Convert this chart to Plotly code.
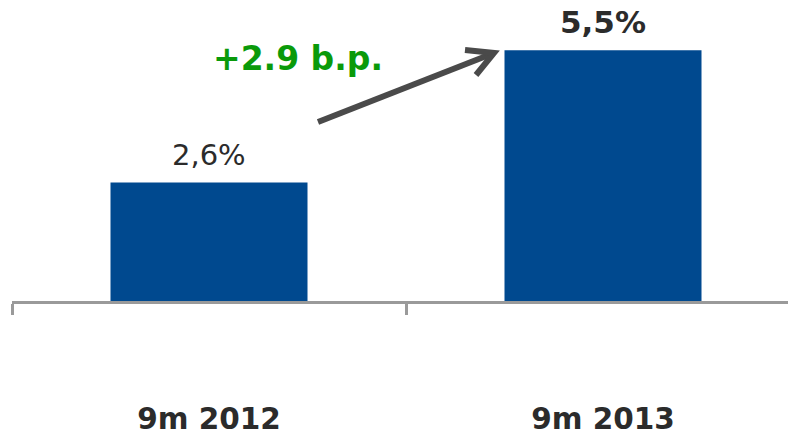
import plotly.graph_objects as go

# Data
categories = ["9m 2012", "9m 2013"]
values = [2.6, 5.5]
value_labels = ["2,6%", "5,5%"]
value_bold = [False, True]
change_label = "+2.9 b.p."

BAR_COLOR = "#00498F"
TEXT_COLOR = "#2B2B2B"
AXIS_COLOR = "#9A9A9A"
GREEN = "#0A9A0A"
ARROW_COLOR = "#4A4A4A"
FONT = "DejaVu Sans, Verdana, sans-serif"

W, H = 788, 438
ML, MR, MT, MB = 12, 0, 0, 137
PW, PH = W - ML - MR, H - MT - MB


def px(x, y):
    """Pixel position -> paper coordinates of the plot area."""
    return (x - ML) / PW, (H - MB - y) / PH


fig = go.Figure(
    go.Bar(
        x=categories,
        y=values,
        width=0.5,
        marker=dict(color=BAR_COLOR, line=dict(width=0)),
        hoverinfo="skip",
    )
)

# value labels above bars
for cat, val, lab, bold in zip(categories, values, value_labels, value_bold):
    fig.add_annotation(
        x=cat, y=val, xref="x", yref="y",
        text=f"<b>{lab}</b>" if bold else lab,
        showarrow=False, yanchor="bottom", yshift=8,
        font=dict(family=FONT, size=31 if bold else 29, color=TEXT_COLOR),
    )

# change label
gx, gy = px(298, 59)
fig.add_annotation(
    x=gx, y=gy, xref="paper", yref="paper",
    text=f"<b>{change_label}</b>", showarrow=False,
    xanchor="center", yanchor="middle",
    font=dict(family=FONT, size=33, color=GREEN),
)

# arrow: shaft plus open chevron head
pts_shaft = [px(318, 122), px(494, 53)]
pts_head = [px(465, 50), px(494, 53), px(476, 75)]


def path(points):
    return "M " + " L ".join(f"{x:.5f},{y:.5f}" for x, y in points)


fig.add_shape(type="path", xref="paper", yref="paper",
              path=path(pts_shaft), line=dict(color=ARROW_COLOR, width=6))
fig.add_shape(type="path", xref="paper", yref="paper",
              path=path(pts_head), line=dict(color=ARROW_COLOR, width=6))

fig.update_layout(
    width=W, height=H,
    margin=dict(l=ML, r=MR, t=MT, b=MB, autoexpand=False),
    paper_bgcolor="white", plot_bgcolor="white",
    showlegend=False,
    bargap=0.5,
)
fig.update_xaxes(
    type="category",
    automargin=False,
    range=[-0.5, -0.5 + PW / 394],
    showline=True, linecolor=AXIS_COLOR, linewidth=2.5,
    showgrid=False, zeroline=False,
    tickson="boundaries", ticks="outside", ticklen=11,
    tickcolor=AXIS_COLOR, tickwidth=2.5,
    ticklabelstandoff=90,
    tickfont=dict(family=FONT, size=29.5, color=TEXT_COLOR, weight="bold"),
)
fig.update_yaxes(
    automargin=False,
    range=[0, PH / 45.6],
    visible=False, showgrid=False, zeroline=False,
)

fig.write_html("out.html")
